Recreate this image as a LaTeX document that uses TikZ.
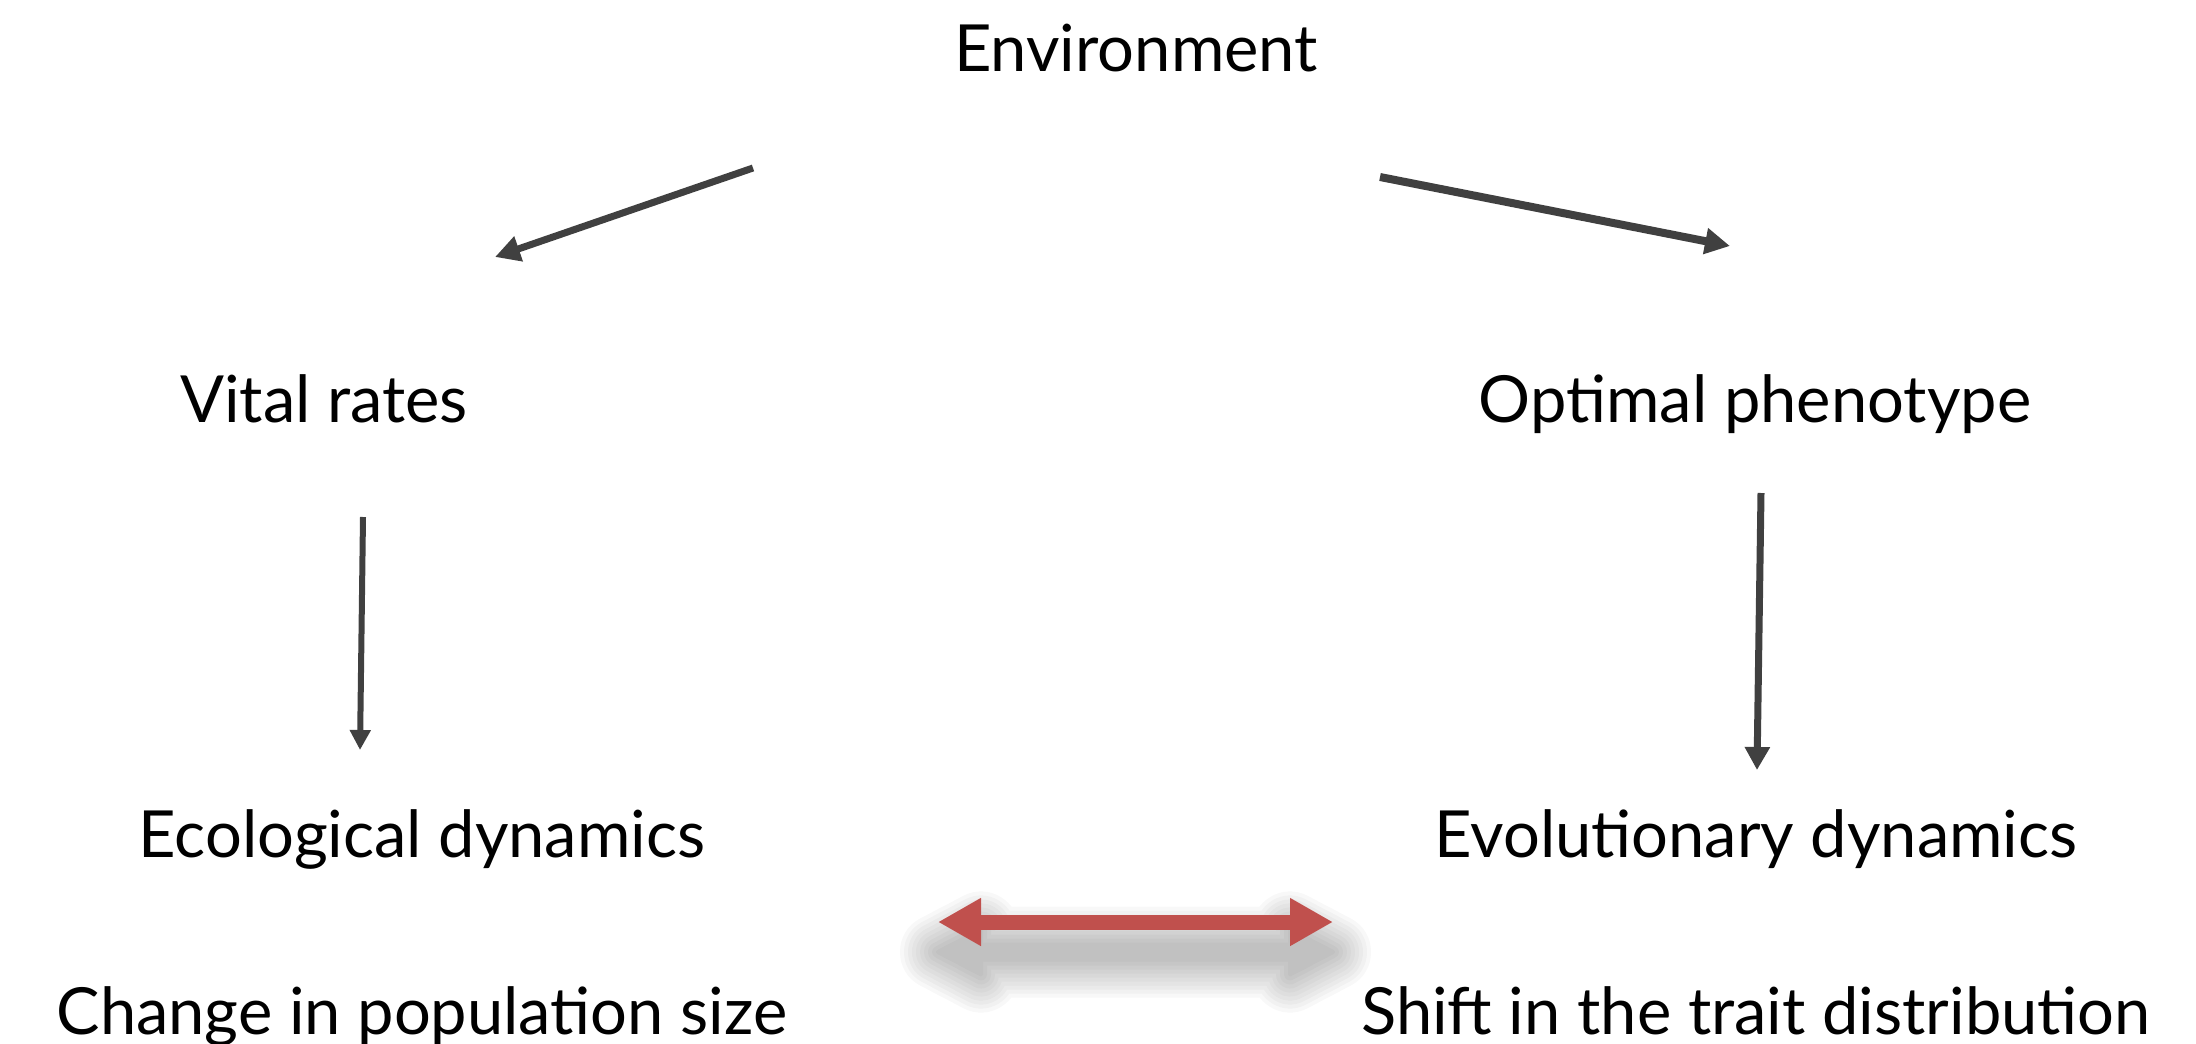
\documentclass[tikz,border=0pt]{standalone}
\usepackage{fontspec}
\setmainfont{Lato}
\usetikzlibrary{arrows.meta}
\definecolor{arrowgray}{HTML}{404040}
\definecolor{linkred}{HTML}{C0504D}
\begin{document}
\begin{tikzpicture}[x=1pt,y=-1pt,
  label/.style={anchor=base,inner sep=0pt,font=\fontsize{65}{78}\selectfont},
  flow/.style={draw=arrowgray,line width=7pt,
    -{Triangle[length=25pt,width=25pt]}},
  shadowlayer/.style={fill=black,draw=black,line join=round}]
\useasboundingbox (0,0) rectangle (2196,1044);

% labels
\node[label] (env) at (1136,71) {Environment};
\node[label] (vital) at (324,422) {Vital rates};
\node[label] (optimal) at (1755,422) {Optimal phenotype};
\node[label] (eco) at (422,857) {Ecological dynamics};
\node[label] (evo) at (1756,857) {Evolutionary dynamics};
\node[label] (popsize) at (422,1034) {Change in population size};
\node[label] (trait) at (1756,1034) {Shift in the trait distribution};

% connector end points
\coordinate (envL) at (753,168);
\coordinate (vitalT) at (495,257);
\coordinate (envR) at (1380,177);
\coordinate (optT) at (1730,246);
\coordinate (vitalB) at (363,517);
\coordinate (ecoT) at (360,750);
\coordinate (optB) at (1761,493);
\coordinate (evoT) at (1757,770);
\coordinate (linkL) at (938,922);
\coordinate (linkR) at (1333,922);

% dark connectors
\draw[flow] (envL) -- (vitalT);
\draw[flow,line width=8pt] (envR) -- (optT);
\draw[flow,line width=6pt,-{Triangle[length=20pt,width=20pt]}] (vitalB) -- (ecoT);
\draw[flow,-{Triangle[length=23pt,width=24pt]}] (optB) -- (evoT);

% soft shadow under the double arrow, built from stacked translucent outlines
\foreach \w in {76,68,60,52,44,36,28,20,12,4}{
  \begin{scope}[transparency group,opacity=0.028]
  \path[shadowlayer,line width=\w pt,shift={(0,30)}]
    (938,922) -- (981,899.5) -- (981,914.5) -- (1290,914.5) -- (1290,899.5)
    -- (1333,922) -- (1290,944.5) -- (1290,929.5) -- (981,929.5) -- (981,944.5) -- cycle;
  \end{scope}
}

% double arrow linking the two dynamics
\draw[linkred,line width=15pt,
  {Triangle[length=43pt,width=45pt]}-{Triangle[length=43pt,width=45pt]}]
  (linkL) -- (linkR);
\end{tikzpicture}
\end{document}
